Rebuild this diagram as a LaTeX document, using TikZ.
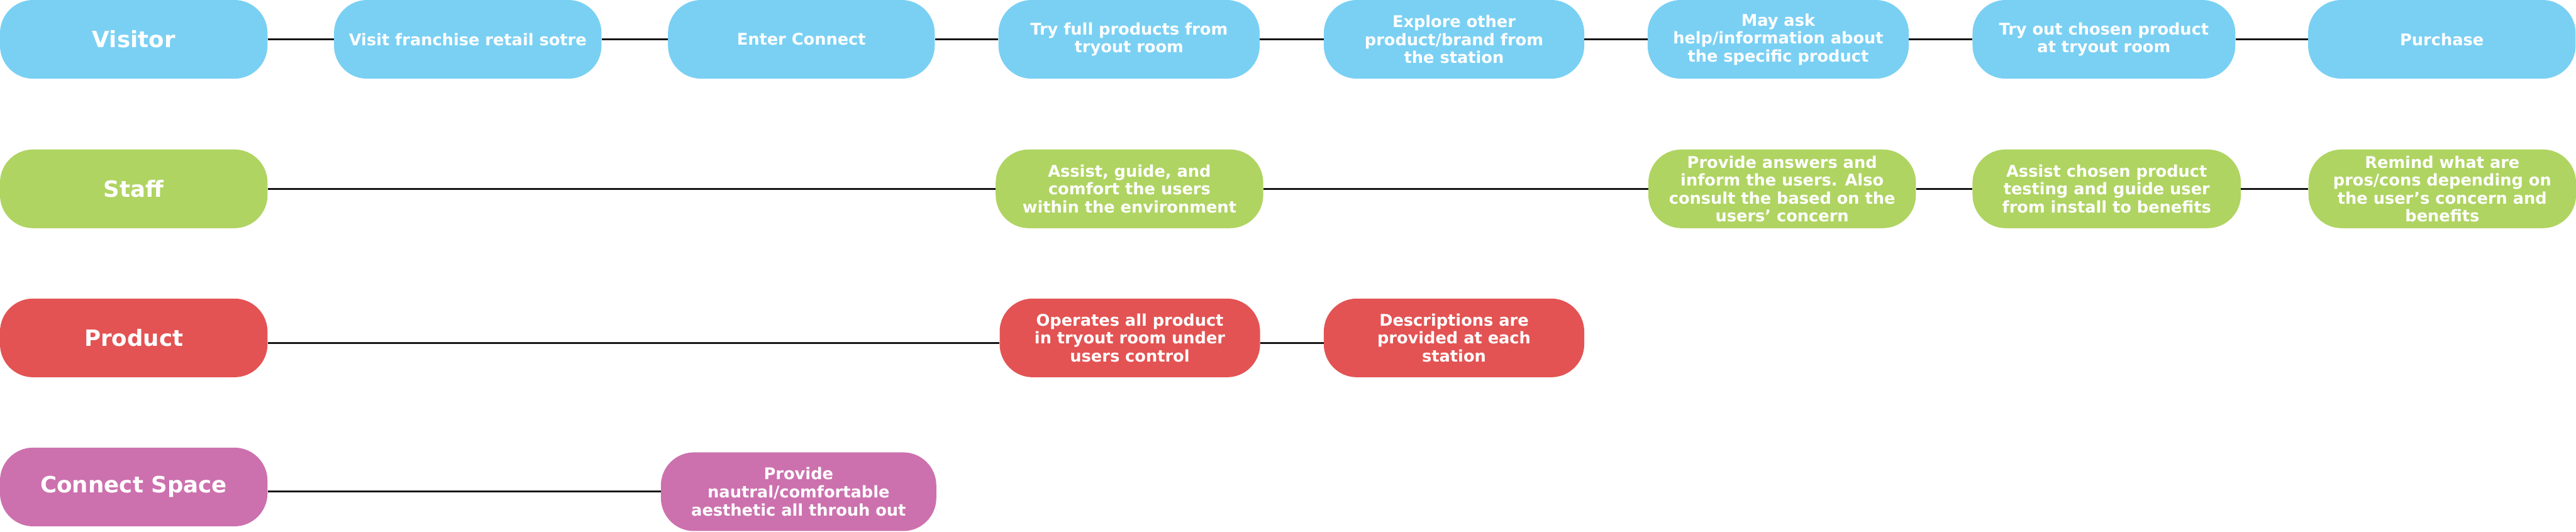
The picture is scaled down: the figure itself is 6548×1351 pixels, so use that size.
\documentclass[tikz,border=0pt]{standalone}
\usepackage{fontspec}
\setmainfont{DejaVu Sans}
\definecolor{cblue}{RGB}{122,208,243}
\definecolor{cgreen}{RGB}{175,212,98}
\definecolor{cred}{RGB}{227,83,83}
\definecolor{cpink}{RGB}{204,113,174}
\definecolor{cline}{RGB}{22,22,22}
\begin{document}
\begin{tikzpicture}[x=0.5pt,y=-0.5pt,
  box/.style={rectangle, rounded corners=42pt, minimum height=100pt, inner sep=0pt,
    text=white, align=center, font=\bfseries\fontsize{20.5pt}{22.8pt}\selectfont},
  headbox/.style={box, minimum width=340pt, font=\bfseries\fontsize{28.5pt}{31pt}\selectfont},
  bluebox/.style={box, fill=cblue},
  greenbox/.style={box, fill=cgreen},
  redbox/.style={box, fill=cred},
  pinkbox/.style={box, fill=cpink},
  link/.style={draw=cline, line width=2.4pt}]
\useasboundingbox (0,0) rectangle (6548,1351);
% row 1
\node[bluebox, headbox] (visitor) at (340,100) {Visitor};
\node[bluebox, minimum width=340pt] (franchise) at (1189,100) {Visit franchise retail sotre};
\node[bluebox, minimum width=339pt] (enter) at (2037,100) {Enter Connect};
\node[bluebox, minimum width=332pt] (tryfull) at (2870,100) {Try full products from\\tryout room};
\node[bluebox, minimum width=331pt] (explore) at (3696,100) {Explore other\\product/brand from\\the station};
\node[bluebox, minimum width=332pt] (mayask) at (4520,100) {May ask\\help/information about\\the specific product};
\node[bluebox, minimum width=334pt] (tryout) at (5348,100) {Try out chosen product\\at tryout room};
\node[bluebox, minimum width=340pt] (purchase) at (6207,100) {Purchase};
% row 2
\node[greenbox, headbox] (staff) at (340,480) {Staff};
\node[greenbox, minimum width=340pt] (assist) at (2871,480) {Assist, guide, and\\comfort the users\\within the environment};
\node[greenbox, minimum width=340pt] (answers) at (4530,480) {Provide answers and\\inform the users. Also\\consult the based on the\\users’ concern};
\node[greenbox, minimum width=341pt] (chosen) at (5355,480) {Assist chosen product\\testing and guide user\\from install to benefits};
\node[greenbox, minimum width=340pt] (remind) at (6208,480) {Remind what are\\pros/cons depending on\\the user’s concern and\\benefits};
% row 3
\node[redbox, headbox] (product) at (340,859) {Product};
\node[redbox, minimum width=331pt] (operates) at (2872,859) {Operates all product\\in tryout room under\\users control};
\node[redbox, minimum width=331pt] (descr) at (3696,859) {Descriptions are\\provided at each\\station};
% row 4
\node[pinkbox, headbox] (space) at (340,1238) {Connect Space};
\node[pinkbox, minimum width=350pt] (aesthetic) at (2030,1250) {Provide\\nautral/comfortable\\aesthetic all throuh out};
% connectors
\draw[link] (visitor) -- (franchise);
\draw[link] (franchise) -- (enter);
\draw[link] (enter) -- (tryfull);
\draw[link] (tryfull) -- (explore);
\draw[link] (explore) -- (mayask);
\draw[link] (mayask) -- (tryout);
\draw[link] (tryout) -- (purchase);
\draw[link] (staff) -- (assist);
\draw[link] (assist) -- (answers);
\draw[link] (answers) -- (chosen);
\draw[link] (chosen) -- (remind);
\draw[link] ([yshift=-6.5pt]product.east) -- ([yshift=-6.5pt]operates.west);
\draw[link] ([yshift=-6.5pt]operates.east) -- ([yshift=-6.5pt]descr.west);
\draw[link] ([yshift=-6pt]space.east) -- (aesthetic.west);
\end{tikzpicture}
\end{document}
